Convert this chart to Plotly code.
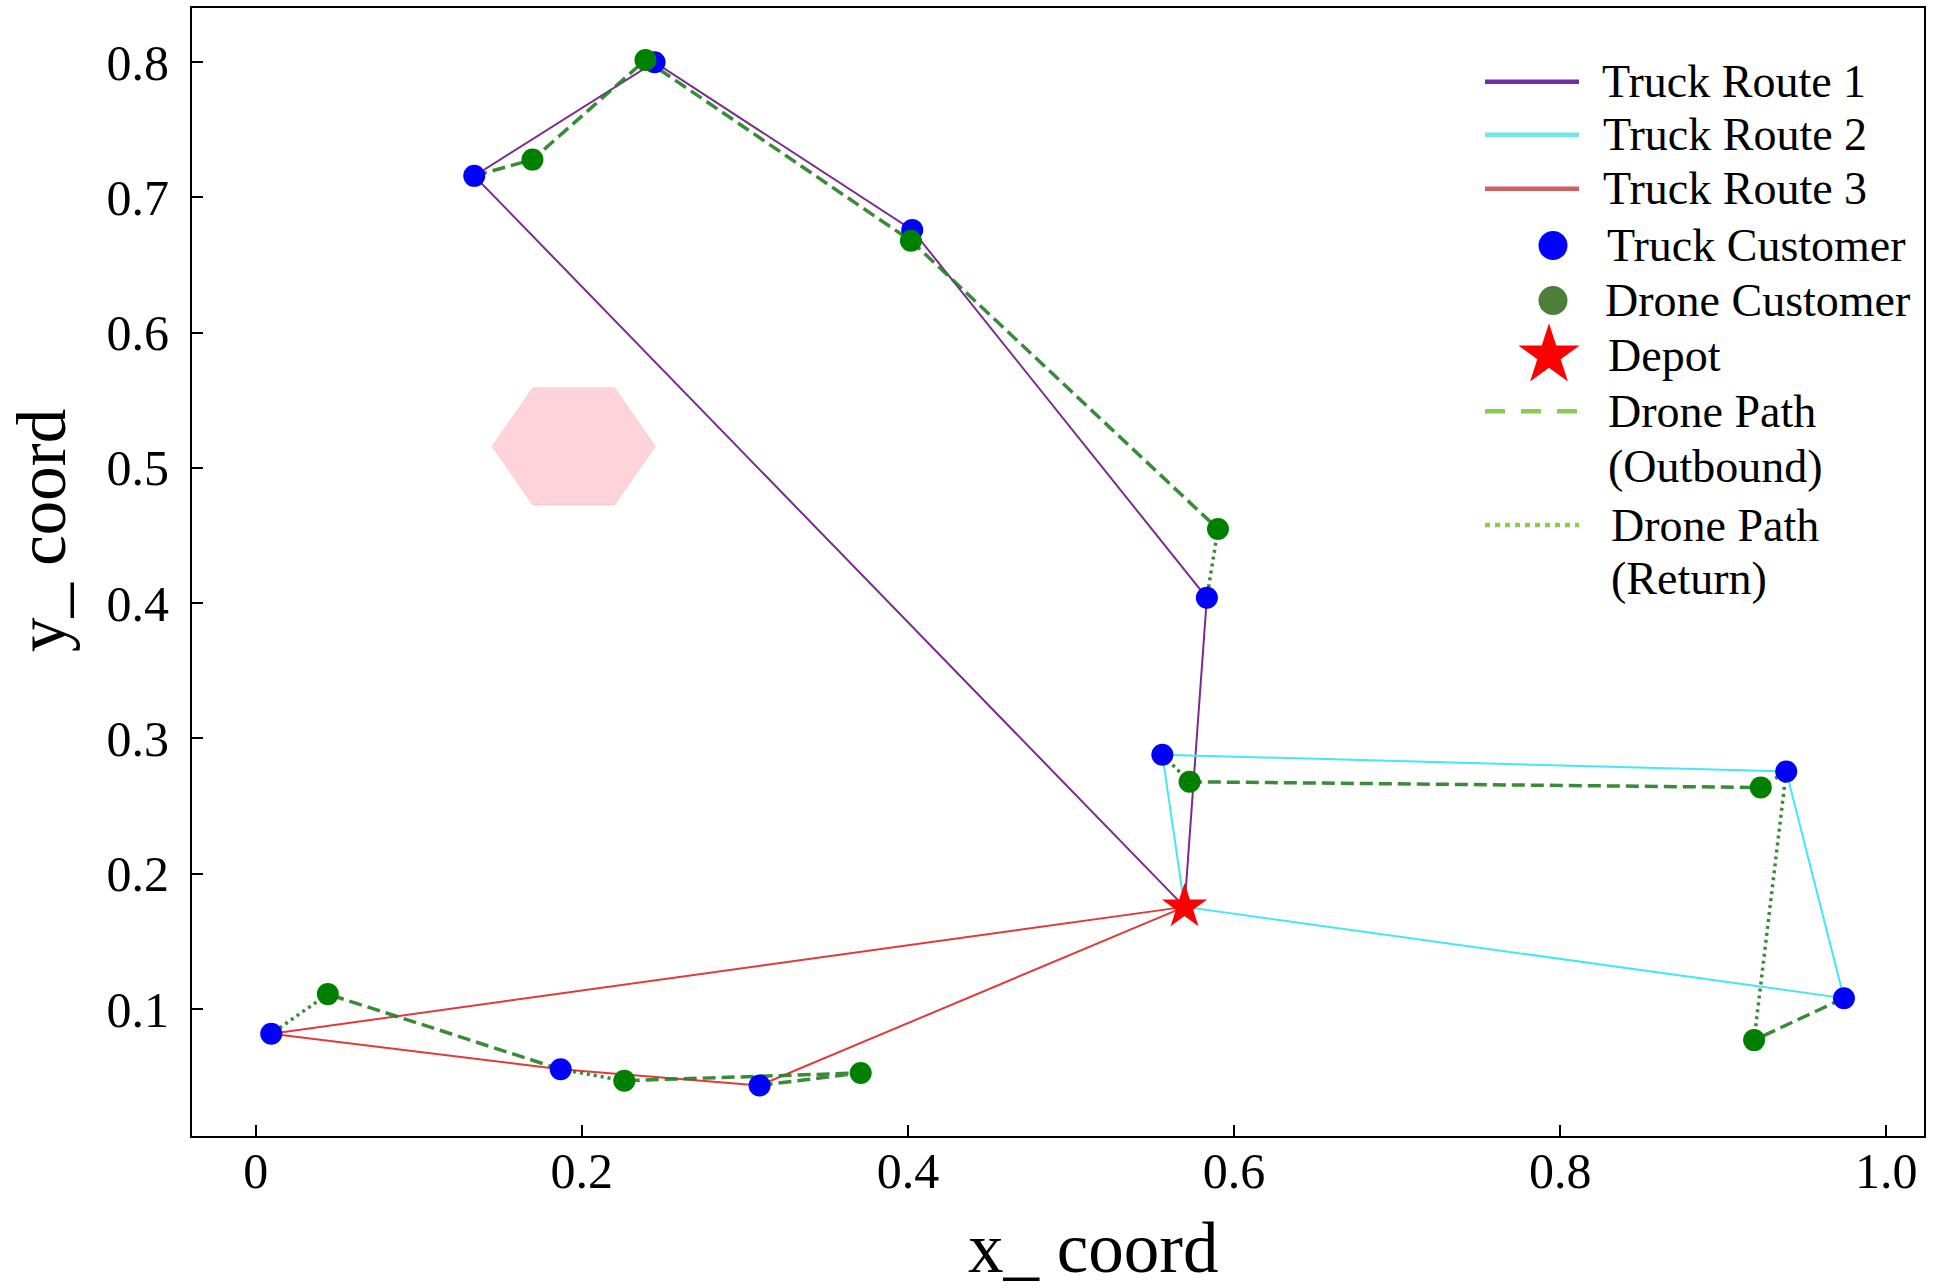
import math
import plotly.graph_objects as go

# ---------------- data ----------------
truck_x = [0.0095, 0.187, 0.309, 0.134, 0.2446, 0.4026, 0.5833, 0.556, 0.9386, 0.974]
truck_y = [0.0817, 0.0554, 0.0435, 0.716, 0.800, 0.676, 0.404, 0.288, 0.2756, 0.108]

drone_x = [0.0442, 0.226, 0.371, 0.1697, 0.239, 0.4018, 0.5901, 0.5727, 0.923, 0.9189]
drone_y = [0.111, 0.047, 0.0527, 0.728, 0.8017, 0.668, 0.4549, 0.268, 0.2638, 0.077]

depot_x = 0.5696
depot_y = 0.1755

# truck routes (truck-customer indices, starting and ending at depot)
route_names = ["Truck Route 1", "Truck Route 2", "Truck Route 3"]
route_stops = [[3, 4, 5, 6], [9, 8, 7], [2, 1, 0]]

# drone sorties: (launch truck idx, drone customers visited, return truck idx)
sorties = [
    (2, [2, 1], 1),
    (1, [0], 0),
    (9, [9], 8),
    (8, [8, 7], 7),
    (3, [3, 4, 5, 6], 6),
]

# no-fly zone (hexagon)
zone_cx = 0.195
zone_cy = 0.516
zone_r = 0.05

x_ticks = [0, 0.2, 0.4, 0.6, 0.8, 1.0]
x_tick_text = ["0", "0.2", "0.4", "0.6", "0.8", "1.0"]
y_ticks = [0.1, 0.2, 0.3, 0.4, 0.5, 0.6, 0.7, 0.8]
y_tick_text = ["0.1", "0.2", "0.3", "0.4", "0.5", "0.6", "0.7", "0.8"]

legend_labels = ["Truck Route 1", "Truck Route 2", "Truck Route 3",
                 "Truck Customer", "Drone Customer", "Depot",
                 "Drone Path", "(Outbound)", "Drone Path", "(Return)"]

x_title = "x_ coord"
y_title = "y_ coord"

# ---------------- styles / layout ----------------
W, H = 1933, 1288
ML, MR, MT, MB = 192, 9, 6, 152
PW, PH = W - ML - MR, H - MT - MB
route_colors_plot = ["#7B2A8E", "#44E8F0", "#E23A3A"]
route_colors_leg = ["#7030A0", "#70E6E6", "#D06060"]
drone_line_color = "rgba(34,128,34,0.9)"
leg_drone_line = "#8CCB50"
FONT = "Liberation Serif"

# legend placement in pixel space of the plot area (overlay axis)
leg_rows_y = [80, 133, 187, 244, 299, 354, 410, 465, 524, 578]
leg_line_x0, leg_line_x1 = 1485, 1579
leg_marker_x = 1553
leg_text_x = [1600, 1601, 1601, 1605, 1603, 1606, 1606, 1606, 1609, 1609]


def px_to_paper(px, py):
    return (px - ML) / PW, (H - MB - py) / PH


fig = go.Figure()

# hexagon zone
hx = [zone_cx + zone_r * math.cos(math.radians(60 * k)) for k in range(7)]
hy = [zone_cy + zone_r * math.sin(math.radians(60 * k)) for k in range(7)]
fig.add_trace(go.Scatter(x=hx, y=hy, mode="lines", fill="toself",
                         fillcolor="rgba(255,182,193,0.6)",
                         line=dict(color="rgba(255,182,193,0.6)", width=1),
                         showlegend=False, hoverinfo="skip"))

# truck routes
for name, stops, col in zip(route_names, route_stops, route_colors_plot):
    xs = [depot_x] + [truck_x[i] for i in stops] + [depot_x]
    ys = [depot_y] + [truck_y[i] for i in stops] + [depot_y]
    fig.add_trace(go.Scatter(x=xs, y=ys, mode="lines",
                             line=dict(color=col, width=2),
                             showlegend=False, name=name))

# drone paths
for launch, visits, ret in sorties:
    ox = [truck_x[launch]] + [drone_x[i] for i in visits]
    oy = [truck_y[launch]] + [drone_y[i] for i in visits]
    fig.add_trace(go.Scatter(x=ox, y=oy, mode="lines",
                             line=dict(color=drone_line_color, width=3.5, dash="13px,6px"),
                             showlegend=False))
    rx = [drone_x[visits[-1]], truck_x[ret]]
    ry = [drone_y[visits[-1]], truck_y[ret]]
    fig.add_trace(go.Scatter(x=rx, y=ry, mode="lines",
                             line=dict(color=drone_line_color, width=3.5, dash="3px,4px"),
                             showlegend=False))

# markers
fig.add_trace(go.Scatter(x=truck_x, y=truck_y, mode="markers",
                         marker=dict(color="#0000FF", size=22, line=dict(width=0)),
                         showlegend=False))
fig.add_trace(go.Scatter(x=drone_x, y=drone_y, mode="markers",
                         marker=dict(color="#008000", size=22, line=dict(width=0)),
                         showlegend=False))
fig.add_trace(go.Scatter(x=[depot_x], y=[depot_y], mode="markers",
                         marker=dict(color="#FF0000", size=34, symbol="star", line=dict(width=0)),
                         showlegend=False))

# ---------------- hand-built legend on an overlay axis ----------------
def leg_line(row, color, dash):
    fig.add_trace(go.Scatter(x=[leg_line_x0, leg_line_x1], y=[leg_rows_y[row]] * 2,
                             mode="lines", xaxis="x2", yaxis="y2",
                             line=dict(color=color, width=4.5, dash=dash),
                             showlegend=False, hoverinfo="skip"))


def leg_marker(row, color, size, symbol, dx=0):
    fig.add_trace(go.Scatter(x=[leg_marker_x + dx], y=[leg_rows_y[row]],
                             mode="markers", xaxis="x2", yaxis="y2",
                             marker=dict(color=color, size=size, symbol=symbol, line=dict(width=0)),
                             showlegend=False, hoverinfo="skip"))


for r, col in enumerate(route_colors_leg):
    leg_line(r, col, "solid")
leg_marker(3, "#0000FF", 29, "circle")
leg_marker(4, "#4E7F3A", 29, "circle")
leg_marker(5, "#FF0000", 46, "star", dx=-4)
leg_line(6, leg_drone_line, "20px,16px")
leg_line(8, leg_drone_line, "5px,5px")

annotations = []
for txt, tx, ty in zip(legend_labels, leg_text_x, leg_rows_y):
    annotations.append(dict(text=txt, x=tx, y=ty, xref="x2", yref="y2",
                            xanchor="left", yanchor="middle", showarrow=False,
                            font=dict(family=FONT, size=46, color="black")))

# axis titles (placed in paper coordinates, outside the plot area)
xt_x, xt_y = px_to_paper(1093, 1248)
yt_x, yt_y = px_to_paper(42, 530)
annotations.append(dict(text=x_title, x=xt_x, y=xt_y, xref="paper", yref="paper",
                        xanchor="center", yanchor="middle", showarrow=False,
                        font=dict(family=FONT, size=71, color="black")))
annotations.append(dict(text=y_title, x=yt_x, y=yt_y, xref="paper", yref="paper",
                        xanchor="center", yanchor="middle", showarrow=False, textangle=-90,
                        font=dict(family=FONT, size=69, color="black")))

axis_common = dict(showline=True, linecolor="black", linewidth=2, mirror=True,
                   ticks="inside", ticklen=11, tickwidth=2, tickcolor="black",
                   showgrid=False, zeroline=False,
                   tickfont=dict(family=FONT, size=50, color="black"))

fig.update_layout(
    width=W, height=H,
    margin=dict(l=ML, r=MR, t=MT, b=MB),
    plot_bgcolor="white", paper_bgcolor="white",
    font=dict(family=FONT, color="black"),
    showlegend=False,
    xaxis=dict(range=[-0.0391, 1.0231], tickvals=x_ticks, ticktext=x_tick_text,
               ticklabelstandoff=-10, **axis_common),
    yaxis=dict(range=[0.0061, 0.8401], tickvals=y_ticks, ticktext=y_tick_text,
               ticklabelstandoff=11, **axis_common),
    xaxis2=dict(overlaying="x", range=[ML, W - MR], visible=False, fixedrange=True),
    yaxis2=dict(overlaying="y", range=[H - MB, MT], visible=False, fixedrange=True),
    annotations=annotations,
)

fig.write_html("out.html")
